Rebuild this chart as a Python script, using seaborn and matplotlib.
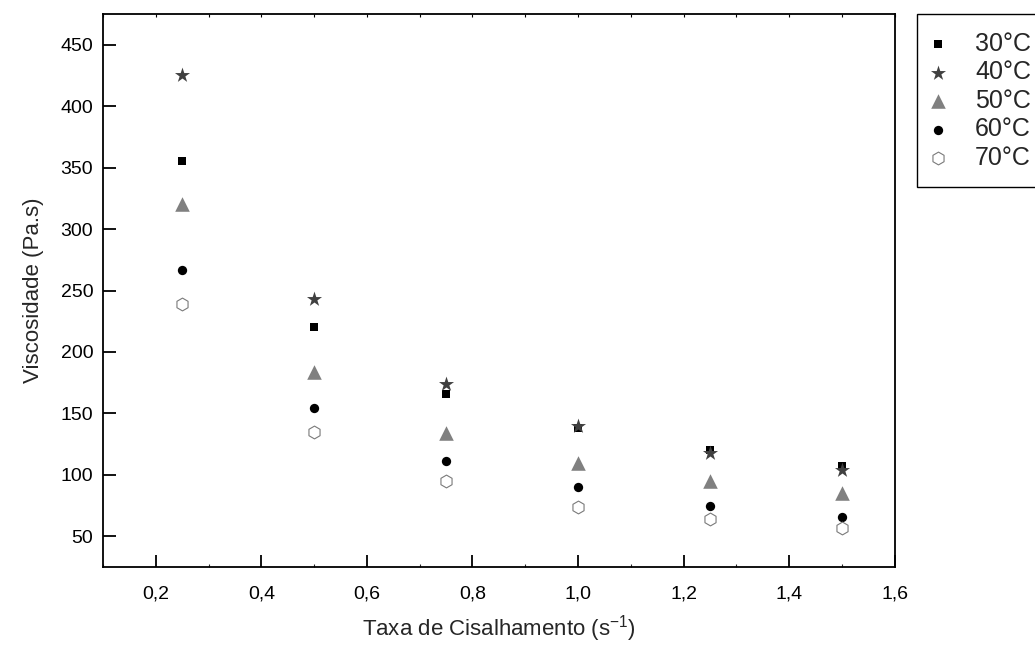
import matplotlib
matplotlib.use("Agg")
import matplotlib.pyplot as plt
from matplotlib.ticker import FuncFormatter, MultipleLocator
import seaborn as sns
import pandas as pd

# Shear rate (1/s) and viscosity (Pa.s) for each temperature
shear_rate = [0.25, 0.50, 0.75, 1.00, 1.25, 1.50]
visc_30 = [355, 220, 166, 138, 120, 107]
visc_40 = [425, 243, 174, 140, 118, 104]
visc_50 = [320, 184, 134, 110, 95, 85]
visc_60 = [267, 154, 111, 90, 75, 66]
visc_70 = [239, 135, 95, 74, 64, 57]
labels = ["30°C", "40°C", "50°C", "60°C", "70°C"]
y_ticks = [50, 100, 150, 200, 250, 300, 350, 400, 450]

sns.set_theme(style="white")
plt.rcParams["font.family"] = ["Liberation Sans", "DejaVu Sans"]
plt.rcParams["mathtext.default"] = "regular"

fig = plt.figure(figsize=(10.35, 6.46), dpi=100)
ax = fig.add_axes([0.0995, 0.1223, 0.765, 0.856])

series = [visc_30, visc_40, visc_50, visc_60, visc_70]
styles = [
    dict(marker="s", s=38, color="black", edgecolor="black", linewidth=0),
    dict(marker="*", s=130, color="#404040", edgecolor="#404040", linewidth=0),
    dict(marker="^", s=110, color="#808080", edgecolor="#808080", linewidth=0),
    dict(marker="o", s=45, color="black", edgecolor="black", linewidth=0),
    dict(marker="h", s=85, color="white", edgecolor="#7a7a7a", linewidth=0.8),
]

for lab, vals, st in zip(labels, series, styles):
    df = pd.DataFrame({"x": shear_rate, "y": vals})
    sns.scatterplot(data=df, x="x", y="y", ax=ax, label=lab, zorder=3, **st)

ax.set_xlim(0.1, 1.6)
ax.set_ylim(25, 475)
ax.xaxis.set_major_locator(MultipleLocator(0.2))
ax.xaxis.set_minor_locator(MultipleLocator(0.1))
ax.set_yticks(y_ticks)
ax.xaxis.set_major_formatter(FuncFormatter(lambda v, p: f"{v:.1f}".replace(".", ",")))

for sp in ax.spines.values():
    sp.set_linewidth(1.3)
    sp.set_color("black")

# inward ticks: full-size on bottom/left, tiny on top
ax.tick_params(axis="x", which="major", direction="in", length=9, width=1.3,
               bottom=True, top=False, labelsize=14, colors="black", pad=13)
ax.tick_params(axis="x", which="minor", direction="in", length=2, width=0.8,
               bottom=True, top=False)
ax.tick_params(axis="y", which="major", direction="in", length=9, width=1.3,
               left=True, right=False, labelsize=14, colors="black", pad=7)
ax.tick_params(axis="y", which="minor", left=False, right=False)

# small marks along the top edge
sec = ax.secondary_xaxis("top")
sec.xaxis.set_major_locator(MultipleLocator(0.1))
sec.tick_params(axis="x", which="major", direction="in", length=2, width=0.8,
                labeltop=False, colors="black")
sec.spines["top"].set_visible(False)

ax.set_xlabel("Taxa de Cisalhamento (s$^{-1}$)", fontsize=16, labelpad=8)
ax.set_ylabel("Viscosidade (Pa.s)", fontsize=16, labelpad=12)

leg = ax.legend(loc="upper left", bbox_to_anchor=(0.886, 0.978),
                bbox_transform=fig.transFigure, borderaxespad=0,
                frameon=True, fancybox=False, shadow=False, fontsize=18,
                handletextpad=1.32, labelspacing=0.18, borderpad=0.7,
                handlelength=0.3)
leg.get_frame().set_edgecolor("black")
leg.get_frame().set_linewidth(1.0)
leg.get_frame().set_alpha(1)

fig.savefig("out.png", dpi=100)
